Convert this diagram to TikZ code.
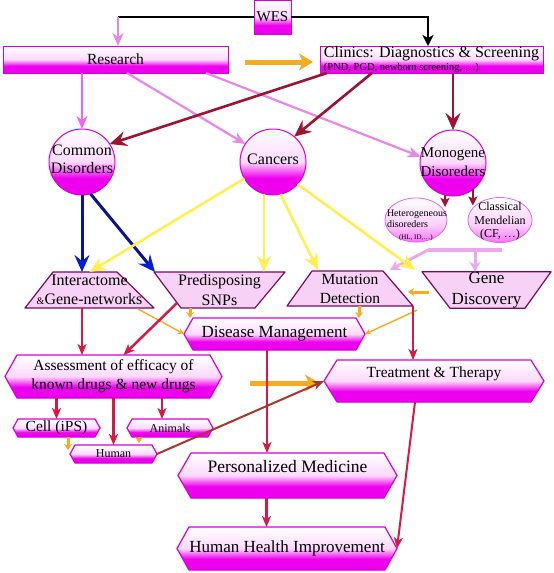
\documentclass[tikz,border=0pt]{standalone}
\usepackage{fontspec}
\setmainfont{Liberation Serif}
\usepackage{xcolor}
\usepackage{tikz}
\usetikzlibrary{arrows.meta}
\usetikzlibrary{shapes.geometric}
\usetikzlibrary{calc}
\pgfdeclarelayer{background}
\pgfsetlayers{background,main}
\definecolor{mag}{RGB}{238,0,238}
\definecolor{magedge}{RGB}{212,0,212}
\definecolor{trapfill}{RGB}{248,210,246}
\definecolor{trapedge}{RGB}{118,10,92}
\definecolor{orchid}{RGB}{232,135,232}
\definecolor{maroon}{RGB}{158,18,50}
\definecolor{navyline}{RGB}{12,20,140}
\definecolor{bluehead}{RGB}{0,30,220}
\definecolor{yel}{RGB}{255,240,80}
\definecolor{ora}{RGB}{245,172,30}
\definecolor{crim}{RGB}{215,25,70}
\definecolor{brn}{RGB}{165,55,45}
\definecolor{lilac}{RGB}{236,168,236}
\pgfdeclareverticalshading{pinkfade}{100bp}{color(0bp)=(mag); color(25bp)=(mag); color(38bp)=(mag); color(50bp)=(mag!15!white); color(75bp)=(white); color(100bp)=(white)}
\pgfdeclareverticalshading{lightfade}{100bp}{color(0bp)=(mag!55!white); color(25bp)=(mag!55!white); color(45bp)=(mag!18!white); color(75bp)=(white); color(100bp)=(white)}

\begin{document}
\begin{tikzpicture}[x=1pt,y=-1pt,
	box/.style={draw=magedge,line width=1pt,shade,shading=pinkfade,inner sep=0pt,outer sep=0pt},
	hexa/.style={inner sep=0pt,outer sep=0pt,align=center},
	hexline/.style={draw=magedge,line width=1.2pt,line join=round,shade,shading=pinkfade},
	ball/.style={box,shape=circle,minimum size=66pt},
	egg/.style={shape=ellipse,draw=magedge!60!white,line width=.8pt,shade,shading=lightfade,inner sep=0pt,outer sep=0pt},
	trap/.style={align=center,inner sep=0pt,outer sep=0pt,minimum height=36pt},
	trapline/.style={draw=trapedge,fill=trapfill,line width=1.2pt,line join=round},
	txt/.style={align=center,inner sep=0pt},
	resarr/.style={draw=orchid,line width=2.2pt,-{Stealth[length=13pt,width=11pt,inset=4pt]}},
	blkarr/.style={draw=black,line width=1.8pt,-{Stealth[length=11pt,width=11pt,inset=3pt]}},
	cliarr/.style={draw=maroon,line width=2.6pt,-{Stealth[length=17pt,width=15pt,inset=6pt]}},
	bluarr/.style={draw=navyline,line width=3pt,-{Stealth[length=17pt,width=15pt,inset=6pt,color=bluehead]}},
	yelarr/.style={draw=yel,line width=2.6pt,-{Stealth[length=16pt,width=14pt,inset=5pt]}},
	fatarr/.style={draw=ora,line width=5pt,-{Stealth[length=14pt,width=17pt,inset=4pt]}},
	oraarr/.style={draw=ora,line width=1.4pt,-{Stealth[length=6pt,width=6pt]}},
	stubarr/.style={draw=ora,line width=3pt,-{Stealth[length=6pt,width=8pt]}},
	redarr/.style={draw=crim,line width=2.5pt,-{Stealth[length=11pt,width=9pt,inset=3pt]}},
	brnarr/.style={draw=brn,line width=2pt,-{Stealth[length=11pt,width=9pt,inset=3pt]}}]
	\useasboundingbox (0,0) rectangle (554,573);
	
	% top row
	\node[box,minimum width=37pt,minimum height=34pt,font=\fontsize{15}{15}\selectfont] (wes) at (272.5,17) {WES};
	\node[box,minimum width=225pt,minimum height=27pt,font=\fontsize{15.5}{16}\selectfont] (res) at (115.5,59.5) {Research};
	\node[box,minimum width=223pt,minimum height=27pt,align=left,font=\fontsize{16}{16}\selectfont] (cli) at (431.5,59.5) {Clinics: Diagnostics \& Screening\\[-3pt]{\fontsize{10.5}{11}\selectfont(PND, PGD, newborn screening, \ldots)}};
	
	% disorders
	\node[ball] (cd) at (82,162) {};
	\node[txt,font=\fontsize{16}{18}\selectfont] (cdtx) at (82,159) {Common\\Disorders};
	\node[ball] (can) at (273,162) {};
	\node[txt,font=\fontsize{16}{18}\selectfont] (cantx) at (273,159) {Cancers};
	\node[ball] (mono) at (453,163) {};
	\node[txt,font=\fontsize{15}{19}\selectfont] (monotx) at (453,162.5) {Monogene\\Disoreders};
	\node[egg,minimum width=62pt,minimum height=44pt] (het) at (416,220) {};
	\node[txt,align=left,font=\fontsize{10}{11.5}\selectfont] (hettx) at (417,225) {Heterogeneous\\disoreders\\\hspace*{12pt}{\fontsize{7}{8}\selectfont(HL, ID,\ldots)}};
	\node[egg,minimum width=64pt,minimum height=45pt] (cm) at (500,220) {};
	\node[txt,font=\fontsize{12}{13.5}\selectfont] (cmtx) at (500,221.5) {Classical\\Mendelian\\(CF, \ldots)};
	\coordinate (barL) at (428,250);
	\coordinate (barM) at (475,250);
	\coordinate (barR) at (502,250);
	
	% trapezoids
	\node[trap,minimum width=129pt,font=\fontsize{16}{19}\selectfont] (ige) at (89.5,290) {Interactome\\{\fontsize{10}{10}\selectfont\&}Gene-networks};
	\node[trap,minimum width=131pt,font=\fontsize{16}{20}\selectfont] (pds) at (219.5,290) {Predisposing\\SNPs};
	\node[trap,minimum width=126pt,minimum height=35pt,font=\fontsize{15.5}{19}\selectfont] (md) at (350,288.5) {Mutation\\Detection};
	\node[trap,minimum width=129pt,font=\fontsize{17}{21.5}\selectfont] (gd) at (486.5,290) {Gene\\Discovery};
	
	% hexagons
	\node[hexa,minimum width=181pt,minimum height=32pt,font=\fontsize{17}{17}\selectfont] (dm) at (274.5,334) {Disease Management};
	\node[hexa,minimum width=217pt,minimum height=43pt,font=\fontsize{15.5}{19}\selectfont] (ass) at (113.5,376.5) {Assessment of efficacy of\\known drugs \& new drugs};
	\node[hexa,minimum width=220pt,minimum height=42pt,text depth=17pt,font=\fontsize{15.5}{16}\selectfont] (tt) at (434,381) {Treatment \& Therapy};
	\node[hexa,minimum width=87pt,minimum height=18pt,font=\fontsize{15.5}{16}\selectfont] (cell) at (56.5,428) {Cell (iPS)};
	\node[hexa,minimum width=86pt,minimum height=18pt,font=\fontsize{12}{12}\selectfont] (ani) at (170,428) {Animals};
	\node[hexa,minimum width=87pt,minimum height=18pt,font=\fontsize{12}{12}\selectfont] (hum) at (113.5,454) {Human};
	\node[hexa,minimum width=219pt,minimum height=45pt,text depth=18pt,font=\fontsize{17.5}{18}\selectfont] (pm) at (287.5,475.5) {Personalized Medicine};
	\node[hexa,minimum width=220pt,minimum height=43pt,font=\fontsize{17}{18}\selectfont] (hhi) at (287,548.5) {Human Health Improvement};
	
	\begin{pgfonlayer}{background}
		\fill[white] (0,0) rectangle (554,573);
		\foreach \n/\d in {dm/9,ass/12,tt/13,cell/5,ani/5,hum/5,pm/13,hhi/12}
			\path[hexline] (\n.west) -- ($(\n.north west)+(\d,0)$) -- ($(\n.north east)+(-\d,0)$) -- (\n.east) -- ($(\n.south east)+(-\d,0)$) -- ($(\n.south west)+(\d,0)$) -- cycle;
		\foreach \n/\p/\q/\r/\s in {ige/28/37/0/0,pds/0/0/30/27,md/25/30/0/0,gd/0/0/26/28}
			\path[trapline] ($(\n.north west)+(\p,0)$) -- ($(\n.north east)+(-\q,0)$) -- ($(\n.south east)+(-\r,0)$) -- ($(\n.south west)+(\s,0)$) -- cycle;
	\end{pgfonlayer}
	
	% WES lines
	\coordinate (wesL) at ($(res.north |- wes.west)+(2.5,0)$);
	\coordinate (wesR) at ($(cli.north |- wes.east)+(-3.5,0)$);
	\draw[black,line width=1.6pt] (wes.west) -- (wesL);
	\draw[resarr,line width=1.8pt] (wesL) -- (wesL |- res.north);
	\draw[blkarr] (wes.east) -- (wesR) -- (wesR |- cli.north);
	
	% research and clinics
	\draw[fatarr] ($(res.east)+(17,2.5)$) -- ($(cli.west)+(-7,2.5)$);
	\draw[resarr,draw=orchid!75!magenta] (res.south -| cd.north) -- (cd.north);
	\draw[resarr] ($(res.south)+(11.5,0)$) -- (can.147);
	\draw[resarr] ($(res.south)+(90.5,0)$) -- (mono.169);
	\draw[cliarr] ($(cli.south west)+(7,0)$) -- (cd.33);
	\draw[cliarr] ($(cli.south west)+(52,0)$) -- (can.50);
	\draw[cliarr] (cli.south -| mono.north) -- (mono.north);
	\draw[cliarr,line width=2pt,-{Stealth[length=9pt,width=9pt,inset=2pt]}] (mono.256) -- ($(mono.256 |- het.north)+(0,9)$);
	\draw[cliarr,line width=2pt,-{Stealth[length=9pt,width=9pt,inset=2pt]}] (mono.307) -- ($(mono.307 |- cm.north)+(0,8)$);
	
	% pink bar
	\draw[draw=lilac,line width=3.5pt] (barR) -- (barL);
	\draw[draw=lilac,line width=3pt,-{Stealth[length=10pt,width=11pt,inset=3pt]}] (barL) -- ($(md.north east)+(-23,-1)$);
	\draw[draw=lilac,line width=3pt,-{Stealth[length=10pt,width=11pt,inset=3pt]}] (barM) -- (barM |- gd.north);
	
	% blue and yellow
	\draw[bluarr] (cd.south) -- (cd.south |- ige.north);
	\draw[bluarr] (cd.285) -- ($(pds.north west)+(1,0)$);
	\draw[yelarr] (can.210) -- (ige.north);
	\draw[yelarr] (can.254) -- (can.254 |- pds.north);
	\draw[yelarr] (can.283) -- ($(md.north west)+(31,-1)$);
	\draw[yelarr] (can.318) -- ($(gd.north west)+(-7,-2)$);
	
	% orange
	\draw[oraarr] ($(ige.south east)+(-16,1)$) -- (dm.west);
	\draw[oraarr] ($(gd.south west)+(-5,2)$) -- (dm.east);
	\draw[stubarr] ($(pds.south west)+(36,0)$) -- ($(pds.south west |- dm.north)+(36,0)$);
	\draw[stubarr] ($(md.south west)+(72,0)$) -- ($(md.south west |- dm.north)+(72,0)$);
	\draw[stubarr] ($(gd.west)+(7,2)$) -- ($(md.east)+(-5,3.5)$);
	\draw[fatarr] ($(ass.east |- tt.west)+(28,2)$) -- ($(tt.west)+(-5,2)$);
	\draw[stubarr] ($(cell.south)+(11.5,0)$) -- ($(cell.south |- hum.north)+(11.5,5)$);
	\draw[stubarr] ($(ani.south)+(-31,0)$) -- ($(ani.south |- hum.north)+(-31,-2)$);
	
	% red
	\draw[redarr] ($(ige.south west)+(57,0)$) -- ($(ige.south west |- ass.north)+(57,0)$);
	\draw[redarr] ($(pds.south west)+(23,-5)$) -- ($(ass.north)+(10,0)$);
	\draw[redarr] (md.south east) -- (md.south east |- tt.north);
	\draw[redarr] ($(dm.south)+(-7.5,0)$) -- ($(dm.south |- pm.north)+(-7.5,0)$);
	\draw[redarr] (ass.south -| cell.north) -- (cell.north);
	\draw[redarr] (ass.south) -- (hum.north);
	\draw[redarr] ($(ass.south -| ani.north)+(-8,0)$) -- ($(ani.north)+(-8,0)$);
	\draw[redarr] ($(pm.south)+(-21,0)$) -- ($(pm.south |- hhi.north)+(-21,0)$);
	\draw[redarr,line width=2pt] ($(tt.south)+(-19,0)$) -- (hhi.east);
	\draw[brnarr] (hum.east) -- (tt.west);
	
\end{tikzpicture}
\end{document}
